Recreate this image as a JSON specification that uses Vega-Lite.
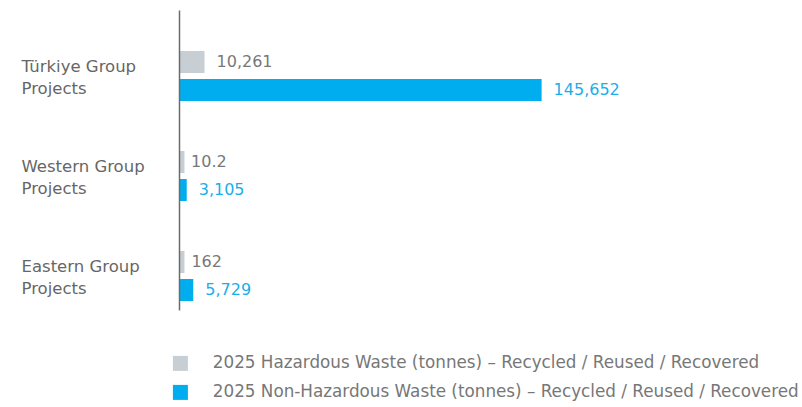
{
  "$schema": "https://vega.github.io/schema/vega-lite/v6.json",
  "width": 600,
  "height": 300,
  "autosize": {"type": "none"},
  "padding": {"left": 179, "top": 10, "right": 23, "bottom": 97},
  "config": {"view": {"stroke": null}, "font": "DejaVu Sans"},
  "data": {
    "values": [
      {"group": "Türkiye Group Projects", "series": "2025 Hazardous Waste (tonnes) – Recycled / Reused / Recovered", "value": 10261},
      {"group": "Türkiye Group Projects", "series": "2025 Non-Hazardous Waste (tonnes) – Recycled / Reused / Recovered", "value": 145652},
      {"group": "Western Group Projects", "series": "2025 Hazardous Waste (tonnes) – Recycled / Reused / Recovered", "value": 10.2},
      {"group": "Western Group Projects", "series": "2025 Non-Hazardous Waste (tonnes) – Recycled / Reused / Recovered", "value": 3105},
      {"group": "Eastern Group Projects", "series": "2025 Hazardous Waste (tonnes) – Recycled / Reused / Recovered", "value": 162},
      {"group": "Eastern Group Projects", "series": "2025 Non-Hazardous Waste (tonnes) – Recycled / Reused / Recovered", "value": 5729}
    ]
  },
  "encoding": {
    "y": {
      "field": "group",
      "type": "nominal",
      "sort": ["Türkiye Group Projects", "Western Group Projects", "Eastern Group Projects"],
      "scale": {"paddingInner": 0, "paddingOuter": 0},
      "axis": {
        "title": null,
        "ticks": false,
        "labelAlign": "left",
        "labelBaseline": "middle",
        "labelPadding": 158,
        "labelOffset": 7,
        "labelFontSize": 16.5,
        "labelLineHeight": 22,
        "labelColor": "#666666",
        "labelLimit": 200,
        "labelExpr": "[replace(datum.label, ' Projects', ''), 'Projects']",
        "domainColor": "#6b6b6b",
        "domainWidth": 1.5,
        "zindex": 1
      }
    },
    "yOffset": {
      "field": "series",
      "sort": ["2025 Hazardous Waste (tonnes) – Recycled / Reused / Recovered", "2025 Non-Hazardous Waste (tonnes) – Recycled / Reused / Recovered"],
      "scale": {"paddingInner": 0.2143, "paddingOuter": 0.893, "align": 0.82}
    }
  },
  "layer": [
    {
      "mark": {"type": "bar"},
      "encoding": {
        "x": {"field": "value", "type": "quantitative", "scale": {"domain": [0, 241000], "nice": false, "zero": true}, "axis": null},
        "color": {
          "field": "series",
          "type": "nominal",
          "sort": ["2025 Hazardous Waste (tonnes) – Recycled / Reused / Recovered", "2025 Non-Hazardous Waste (tonnes) – Recycled / Reused / Recovered"],
          "scale": {"range": ["#C8CFD4", "#00AEEF"]},
          "legend": {
            "title": null,
            "orient": "none",
            "legendX": -7,
            "legendY": 345,
            "padding": 0,
            "symbolType": "square",
            "symbolSize": 225,
            "symbolStrokeWidth": 0,
            "symbolOpacity": 1,
            "labelFontSize": 16.8,
            "labelColor": "#777777",
            "labelOffset": 24,
            "labelLimit": 700,
            "rowPadding": 11
          }
        }
      }
    },
    {
      "mark": {"type": "bar"},
      "encoding": {
        "x": {"datum": 0, "type": "quantitative"},
        "x2": {"datum": 2200},
        "color": {"field": "series", "type": "nominal", "legend": null}
      }
    },
    {
      "mark": {"type": "text", "align": "left", "baseline": "middle", "dx": 12, "fontSize": 16},
      "encoding": {
        "x": {"field": "value", "type": "quantitative"},
        "text": {"field": "value", "type": "quantitative", "format": ","},
        "color": {
          "condition": {"test": "indexof(datum.series, 'Non-') >= 0", "value": "#1AAEEA"},
          "value": "#787878"
        }
      }
    }
  ]
}
